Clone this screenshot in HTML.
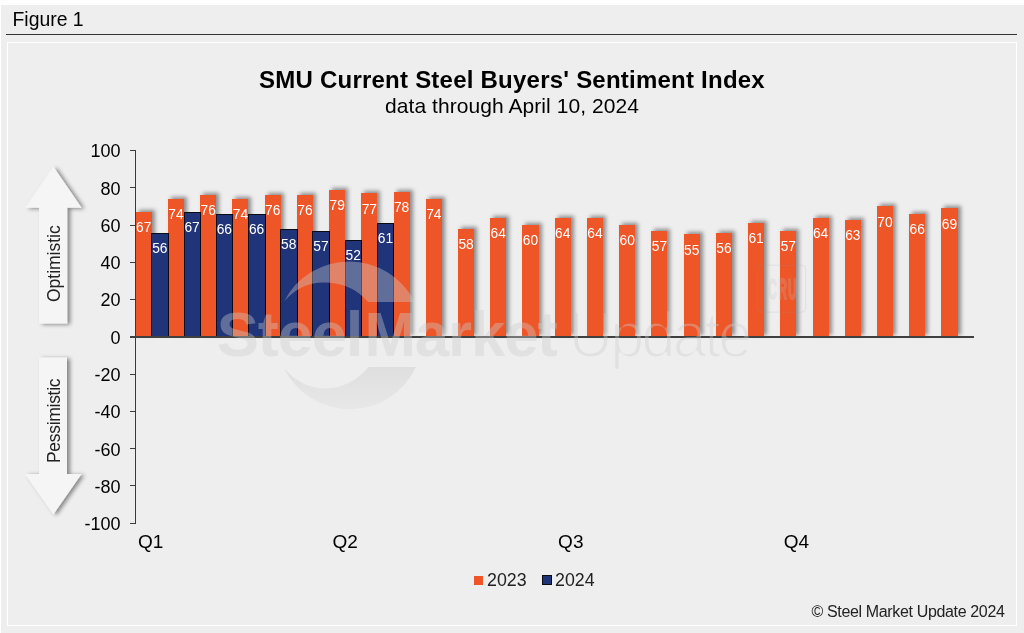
<!DOCTYPE html>
<html><head><meta charset="utf-8"><title>Figure 1</title>
<style>
html,body{margin:0;padding:0}
body{width:1024px;height:633px;overflow:hidden;background:#fff;font-family:"Liberation Sans",sans-serif;color:#000;position:relative}
#bg{position:absolute;left:1px;top:5px;width:1023px;height:628px;background:#eee}
#fig{position:absolute;left:12.5px;top:8.2px;font-size:19.4px;line-height:22px;white-space:nowrap}
#rule{position:absolute;left:5.8px;top:33.8px;width:1011.5px;height:1.5px;background:#333}
#frame{position:absolute;left:6.5px;top:41.8px;width:1008.9px;height:582.4px;border:1.2px solid #fff;box-sizing:content-box}
#title{position:absolute;left:0;top:65.5px;width:1024px;text-align:center;font-weight:bold;font-size:24px;letter-spacing:.23px;line-height:28px;color:#000;white-space:nowrap}
#sub{position:absolute;left:0;top:94px;width:1024px;text-align:center;font-size:21px;letter-spacing:.06px;line-height:24px;color:#000;white-space:nowrap}
.b{position:absolute}
.o{background:#ee5628;box-shadow:2.6px -2.4px 4px rgba(0,0,0,.41)}
.n{background:#20347a;border:1.3px solid #0a0a12;border-bottom:none;box-sizing:border-box}
.l{position:absolute;color:#fff;font-size:13.8px;line-height:16px;text-align:center;white-space:nowrap}
.tk{position:absolute;left:130px;width:6px;height:1px;background:#3c3c3c}
.yl{position:absolute;left:60.6px;width:60px;text-align:right;font-size:18px;line-height:20px;white-space:nowrap}
.xl{position:absolute;top:532.2px;width:60px;text-align:center;font-size:19px;line-height:20px;white-space:nowrap}
#yax{position:absolute;left:135px;top:150px;width:1px;height:373.7px;background:#3a3a3a}
#xax{position:absolute;left:130px;top:336.2px;width:843.7px;height:1.45px;background:#404040}
#leg{position:absolute;top:570px;left:0;font-size:17.8px;line-height:20px;color:#222}
#leg span{position:absolute;white-space:nowrap;top:0}
#leg i{position:absolute;display:block}
#copy{position:absolute;right:19.5px;top:603px;font-size:16px;letter-spacing:-.35px;line-height:18px;color:#222;white-space:nowrap}
.rot{position:absolute;font-size:16px;line-height:20px;white-space:nowrap;transform-origin:0 0;transform:rotate(-90deg);color:#222}
svg{position:absolute;left:0;top:0}
</style></head><body>
<div id="bg"></div>
<div id="fig">Figure 1</div>
<div id="rule"></div>
<div id="frame"></div>
<div id="title">SMU Current Steel Buyers' Sentiment Index</div>
<div id="sub">data through April 10, 2024</div>
<svg width="1024" height="633" viewBox="0 0 1024 633">
<defs>
<filter id="sh" x="-30%" y="-30%" width="160%" height="160%"><feGaussianBlur in="SourceAlpha" stdDeviation="2"/><feOffset dx="2.5" dy="1"/><feComponentTransfer><feFuncA type="linear" slope="0.45"/></feComponentTransfer><feMerge><feMergeNode/><feMergeNode in="SourceGraphic"/></feMerge></filter>
</defs>
<path filter="url(#sh)" fill="#f5f5f5" d="M53.3 166.6 L81.6 207.7 L67.2 207.7 L67.2 323.4 L39.1 323.4 L39.1 207.7 L25 207.7 Z"/>
<path filter="url(#sh)" fill="#f5f5f5" d="M53.3 514.5 L81.5 474 L67 474 L67 357.5 L39 357.5 L39 474 L25 474 Z"/>
</svg>
<div class="rot" style="left:43.9px;top:302.4px;font-size:17.5px;letter-spacing:-.02px">Optimistic</div>
<div class="rot" style="left:43.9px;top:462.8px;font-size:17.5px;letter-spacing:-.3px">Pessimistic</div>
<div class="tk" style="top:150.05px"></div><div class="yl" style="top:141.35px">100</div><div class="tk" style="top:187.32px"></div><div class="yl" style="top:178.62px">80</div><div class="tk" style="top:224.59px"></div><div class="yl" style="top:215.89px">60</div><div class="tk" style="top:261.86px"></div><div class="yl" style="top:253.16px">40</div><div class="tk" style="top:299.13px"></div><div class="yl" style="top:290.43px">20</div><div class="tk" style="top:336.40px"></div><div class="yl" style="top:327.70px">0</div><div class="tk" style="top:373.67px"></div><div class="yl" style="top:364.97px">-20</div><div class="tk" style="top:410.94px"></div><div class="yl" style="top:402.24px">-40</div><div class="tk" style="top:448.21px"></div><div class="yl" style="top:439.51px">-60</div><div class="tk" style="top:485.48px"></div><div class="yl" style="top:476.78px">-80</div><div class="tk" style="top:522.75px"></div><div class="yl" style="top:514.05px">-100</div>
<div id="yax"></div>
<div class="b o" style="left:135.70px;top:212.05px;width:16.11px;height:124.85px"></div><div class="b o" style="left:167.93px;top:199.00px;width:16.11px;height:137.90px"></div><div class="b o" style="left:200.16px;top:195.27px;width:16.11px;height:141.63px"></div><div class="b o" style="left:232.39px;top:199.00px;width:16.11px;height:137.90px"></div><div class="b o" style="left:264.62px;top:195.27px;width:16.11px;height:141.63px"></div><div class="b o" style="left:296.85px;top:195.27px;width:16.11px;height:141.63px"></div><div class="b o" style="left:329.08px;top:189.68px;width:16.11px;height:147.22px"></div><div class="b o" style="left:361.31px;top:193.41px;width:16.11px;height:143.49px"></div><div class="b o" style="left:393.54px;top:191.55px;width:16.11px;height:145.35px"></div><div class="b o" style="left:425.77px;top:199.00px;width:16.11px;height:137.90px"></div><div class="b o" style="left:458.00px;top:228.82px;width:16.11px;height:108.08px"></div><div class="b o" style="left:490.23px;top:217.64px;width:16.11px;height:119.26px"></div><div class="b o" style="left:522.46px;top:225.09px;width:16.11px;height:111.81px"></div><div class="b o" style="left:554.69px;top:217.64px;width:16.11px;height:119.26px"></div><div class="b o" style="left:586.92px;top:217.64px;width:16.11px;height:119.26px"></div><div class="b o" style="left:619.15px;top:225.09px;width:16.11px;height:111.81px"></div><div class="b o" style="left:651.38px;top:230.68px;width:16.11px;height:106.22px"></div><div class="b o" style="left:683.61px;top:234.41px;width:16.11px;height:102.49px"></div><div class="b o" style="left:715.84px;top:232.54px;width:16.11px;height:104.36px"></div><div class="b o" style="left:748.07px;top:223.23px;width:16.11px;height:113.67px"></div><div class="b o" style="left:780.30px;top:230.68px;width:16.11px;height:106.22px"></div><div class="b o" style="left:812.53px;top:217.64px;width:16.11px;height:119.26px"></div><div class="b o" style="left:844.76px;top:219.50px;width:16.11px;height:117.40px"></div><div class="b o" style="left:876.99px;top:206.45px;width:16.11px;height:130.44px"></div><div class="b o" style="left:909.22px;top:213.91px;width:16.11px;height:122.99px"></div><div class="b o" style="left:941.45px;top:208.32px;width:16.11px;height:128.58px"></div>
<div class="b n" style="left:151.31px;top:232.74px;width:17.51px;height:104.16px"></div><div class="b n" style="left:183.54px;top:212.25px;width:17.51px;height:124.65px"></div><div class="b n" style="left:215.77px;top:214.11px;width:17.51px;height:122.79px"></div><div class="b n" style="left:248.00px;top:214.11px;width:17.51px;height:122.79px"></div><div class="b n" style="left:280.24px;top:229.02px;width:17.51px;height:107.88px"></div><div class="b n" style="left:312.46px;top:230.88px;width:17.51px;height:106.02px"></div><div class="b n" style="left:344.69px;top:240.20px;width:17.51px;height:96.70px"></div><div class="b n" style="left:376.92px;top:223.43px;width:17.51px;height:113.47px"></div>
<div id="xax"></div>
<div class="l" style="left:131.70px;top:220.25px;width:24.11px">67</div><div class="l" style="left:163.93px;top:207.20px;width:24.11px">74</div><div class="l" style="left:196.16px;top:203.47px;width:24.11px">76</div><div class="l" style="left:228.39px;top:207.20px;width:24.11px">74</div><div class="l" style="left:260.62px;top:203.47px;width:24.11px">76</div><div class="l" style="left:292.85px;top:203.47px;width:24.11px">76</div><div class="l" style="left:325.08px;top:197.88px;width:24.11px">79</div><div class="l" style="left:357.31px;top:201.61px;width:24.11px">77</div><div class="l" style="left:389.54px;top:199.75px;width:24.11px">78</div><div class="l" style="left:421.77px;top:207.20px;width:24.11px">74</div><div class="l" style="left:454.00px;top:237.02px;width:24.11px">58</div><div class="l" style="left:486.23px;top:225.84px;width:24.11px">64</div><div class="l" style="left:518.46px;top:233.29px;width:24.11px">60</div><div class="l" style="left:550.69px;top:225.84px;width:24.11px">64</div><div class="l" style="left:582.92px;top:225.84px;width:24.11px">64</div><div class="l" style="left:615.15px;top:233.29px;width:24.11px">60</div><div class="l" style="left:647.38px;top:238.88px;width:24.11px">57</div><div class="l" style="left:679.61px;top:242.61px;width:24.11px">55</div><div class="l" style="left:711.84px;top:240.74px;width:24.11px">56</div><div class="l" style="left:744.07px;top:231.43px;width:24.11px">61</div><div class="l" style="left:776.30px;top:238.88px;width:24.11px">57</div><div class="l" style="left:808.53px;top:225.84px;width:24.11px">64</div><div class="l" style="left:840.76px;top:227.70px;width:24.11px">63</div><div class="l" style="left:872.99px;top:214.65px;width:24.11px">70</div><div class="l" style="left:905.22px;top:222.11px;width:24.11px">66</div><div class="l" style="left:937.45px;top:216.52px;width:24.11px">69</div><div class="l" style="left:147.81px;top:240.74px;width:24.11px">56</div><div class="l" style="left:180.04px;top:220.25px;width:24.11px">67</div><div class="l" style="left:212.27px;top:222.11px;width:24.11px">66</div><div class="l" style="left:244.50px;top:222.11px;width:24.11px">66</div><div class="l" style="left:276.74px;top:237.02px;width:24.11px">58</div><div class="l" style="left:308.96px;top:238.88px;width:24.11px">57</div><div class="l" style="left:341.19px;top:248.20px;width:24.11px">52</div><div class="l" style="left:373.42px;top:231.43px;width:24.11px">61</div>
<svg width="1024" height="633" viewBox="0 0 1024 633">
<defs><filter id="thin" x="-5%" y="-10%" width="110%" height="125%"><feGaussianBlur stdDeviation="1.2"/><feComponentTransfer><feFuncA type="linear" slope="4.4" intercept="-3.06"/></feComponentTransfer></filter><linearGradient id="g2" x1="0" y1="0" x2="0" y2="1"><stop offset="0" stop-color="#c8c8c8" stop-opacity=".42"/><stop offset="1" stop-color="#d8d8d8" stop-opacity=".3"/></linearGradient></defs>
<g fill="#cdcdcd" fill-opacity=".38">
<path d="M284.2 301.3 A73 73 0 0 1 414.6 302 L368 302 C358 289 341 282 322 282.4 C305 283 293 291 284.2 301.3 Z"/>
<text transform="translate(216.8 355.8) scale(1.055 1.04)" font-family="Liberation Sans, sans-serif" font-weight="bold" font-size="60" letter-spacing="-1.12">Steel</text>
<text transform="translate(364.5 355.8) scale(1.03 1.04)" font-family="Liberation Sans, sans-serif" font-weight="bold" font-size="60" letter-spacing="-1.12">Market</text>
</g>
<g opacity=".38"><text transform="translate(568.5 356.9) scale(1 1.06)" font-family="Liberation Sans, sans-serif" font-size="62" letter-spacing="-3.2" fill="#cdcdcd" filter="url(#thin)">Update</text></g>
<path fill="url(#g2)" d="M284 368 A73 73 0 0 0 416 367 L368.4 367 C358 380 343 388.4 324.7 388.4 C307 388 294 380 284 368 Z"/>
<g opacity=".16" fill="none" stroke="#999"><rect x="757.7" y="265.2" width="48" height="47" rx="4" stroke-width="1"/></g>
<g opacity=".22"><text transform="translate(768.3 299.3) scale(0.40 1)" font-family="Liberation Sans, sans-serif" font-weight="bold" font-size="30" fill="#c4c4c4" stroke="#c4c4c4" stroke-width="2.2" stroke-linejoin="round" letter-spacing="3">CRU</text></g>
</svg>
<div class="xl" style="left:120.62px">Q1</div><div class="xl" style="left:315.19px">Q2</div><div class="xl" style="left:540.80px">Q3</div><div class="xl" style="left:766.41px">Q4</div>
<div id="leg"><i style="left:474px;top:5.5px;width:9px;height:9.5px;background:#ee5628"></i><span style="left:487px">2023</span><i style="left:542.2px;top:5px;width:9.6px;height:10px;background:#20347a;border:1px solid #0a0a12;box-sizing:border-box"></i><span style="left:555px">2024</span></div>
<div id="copy">© Steel Market Update 2024</div>
</body></html>
